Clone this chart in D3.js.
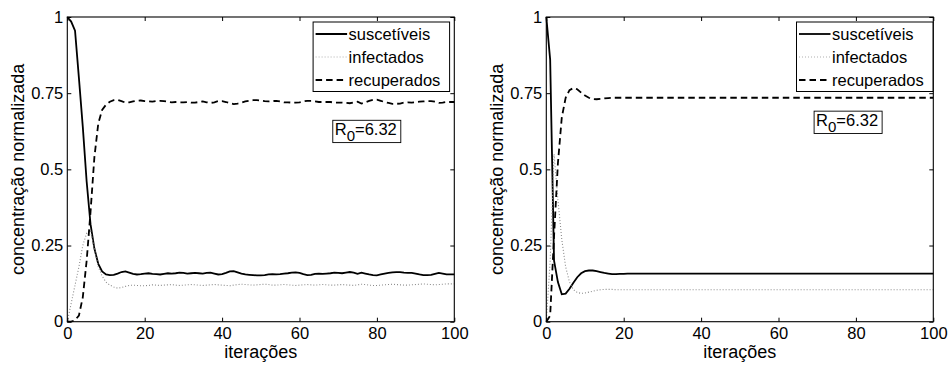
<!DOCTYPE html>
<html>
<head>
<meta charset="utf-8">
<script src="https://cdn.jsdelivr.net/npm/d3@7"></script>
<style>
body { margin: 0; background: #fff; }
svg { display: block; }
svg text { font-family: "Liberation Sans", Arial, Helvetica, sans-serif; }
</style>
</head>
<body>
<script>
var xTicks = [0, 20, 40, 60, 80, 100];
var yTicks = [0, 0.25, 0.5, 0.75, 1];
var seriesNames = ["suscetíveis", "infectados", "recuperados"];
var r0Value = "6.32";

// left panel: one value per iteration 0..100
var leftSusc = [
    1.000, 0.985, 0.955, 0.800, 0.640, 0.460, 0.320, 0.240, 0.190, 0.165, 0.155,
    0.153, 0.154, 0.158, 0.163, 0.165, 0.161, 0.157, 0.155, 0.156, 0.158,
    0.159, 0.157, 0.156, 0.155, 0.157, 0.159, 0.158, 0.159, 0.161, 0.160,
    0.158, 0.159, 0.160, 0.159, 0.158, 0.160, 0.161, 0.158, 0.155, 0.156,
    0.160, 0.165, 0.166, 0.162, 0.158, 0.155, 0.154, 0.153, 0.152, 0.152,
    0.153, 0.155, 0.156, 0.155, 0.156, 0.158, 0.159, 0.161, 0.162, 0.160,
    0.156, 0.153, 0.154, 0.157, 0.158, 0.157, 0.158, 0.159, 0.161, 0.160,
    0.159, 0.161, 0.163, 0.161, 0.157, 0.161, 0.158, 0.155, 0.153, 0.152,
    0.155, 0.158, 0.160, 0.162, 0.163, 0.163, 0.161, 0.160, 0.160, 0.158,
    0.155, 0.153, 0.153, 0.154, 0.157, 0.160, 0.158, 0.155, 0.155, 0.155
];
var leftInf = [
    0.000, 0.060, 0.120, 0.180, 0.250, 0.290, 0.300, 0.240, 0.180, 0.150, 0.130,
    0.120, 0.114, 0.110, 0.112, 0.116, 0.119, 0.120, 0.119, 0.118, 0.118,
    0.119, 0.121, 0.120, 0.119, 0.120, 0.121, 0.122, 0.120, 0.119, 0.120,
    0.121, 0.122, 0.121, 0.120, 0.119, 0.120, 0.121, 0.122, 0.121, 0.120,
    0.119, 0.118, 0.120, 0.122, 0.123, 0.122, 0.121, 0.120, 0.121, 0.122,
    0.123, 0.122, 0.120, 0.120, 0.121, 0.122, 0.121, 0.120, 0.119, 0.120,
    0.121, 0.122, 0.121, 0.120, 0.121, 0.122, 0.121, 0.120, 0.120, 0.121,
    0.122, 0.121, 0.120, 0.119, 0.121, 0.123, 0.122, 0.120, 0.119, 0.119,
    0.120, 0.121, 0.122, 0.123, 0.122, 0.121, 0.120, 0.120, 0.121, 0.122,
    0.123, 0.124, 0.123, 0.122, 0.121, 0.122, 0.123, 0.124, 0.124, 0.124
];
var leftRec = [
    0.000, 0.000, 0.005, 0.020, 0.080, 0.200, 0.360, 0.540, 0.650, 0.695, 0.712,
    0.722, 0.727, 0.728, 0.724, 0.719, 0.720, 0.723, 0.725, 0.726, 0.724,
    0.723, 0.722, 0.724, 0.725, 0.724, 0.722, 0.720, 0.721, 0.720, 0.720,
    0.721, 0.719, 0.719, 0.721, 0.723, 0.720, 0.718, 0.720, 0.724, 0.724,
    0.721, 0.717, 0.714, 0.716, 0.719, 0.723, 0.725, 0.727, 0.727, 0.726,
    0.724, 0.723, 0.724, 0.725, 0.723, 0.720, 0.720, 0.719, 0.719, 0.720,
    0.723, 0.725, 0.725, 0.723, 0.721, 0.721, 0.721, 0.721, 0.719, 0.719,
    0.719, 0.718, 0.717, 0.720, 0.722, 0.716, 0.720, 0.725, 0.728, 0.729,
    0.725, 0.721, 0.718, 0.715, 0.715, 0.716, 0.719, 0.720, 0.719, 0.720,
    0.722, 0.723, 0.724, 0.724, 0.722, 0.718, 0.719, 0.721, 0.721, 0.721
];
var leftIter = leftSusc.map(function(d, i) { return i; });

// right panel: settles by iteration 25, flat after that
var rightIter = [0, 1, 2, 3, 4, 5, 6, 7, 8, 9, 10, 11, 12, 13, 14, 15, 16, 17, 18, 19, 20, 21, 22, 23, 24, 25, 100];
var rightSusc = [1.000, 0.860, 0.200, 0.130, 0.090, 0.092, 0.108, 0.128, 0.146, 0.159, 0.166, 0.168, 0.168,
                 0.166, 0.163, 0.160, 0.158, 0.156, 0.156, 0.157, 0.157, 0.158, 0.158, 0.158, 0.158, 0.158, 0.158];
var rightInf = [0.000, 0.200, 0.550, 0.400, 0.270, 0.180, 0.130, 0.105, 0.096, 0.093, 0.094, 0.097, 0.100,
                0.103, 0.105, 0.106, 0.106, 0.106, 0.105, 0.105, 0.105, 0.105, 0.105, 0.105, 0.105, 0.105, 0.105];
var rightRec = [0.000, 0.020, 0.280, 0.520, 0.670, 0.735, 0.760, 0.767, 0.763, 0.752, 0.742, 0.735, 0.731,
                0.730, 0.731, 0.733, 0.734, 0.735, 0.735, 0.735, 0.735, 0.735, 0.735, 0.735, 0.735, 0.735, 0.735];

var lineStyles = [
    { stroke: "#000", width: 1.8, dash: null },
    { stroke: "#8a8a8a", width: 1.1, dash: "1,2" },
    { stroke: "#000", width: 1.8, dash: "6.5,4" }
];

var FONT = "Liberation Sans, Arial, Helvetica, sans-serif";
var W = 387, H = 304.7, TOP = 17;
var svg = d3.select("body").append("svg")
    .attr("width", 950).attr("height", 365)
    .attr("font-family", FONT);

function drawPanel(left, iter, series, legendInset, r0At) {
    var x = d3.scaleLinear().domain([0, 100]).range([0, W]);
    var y = d3.scaleLinear().domain([0, 1]).range([H, 0]);
    var g = svg.append("g").attr("transform", "translate(" + left + "," + TOP + ")");

    var line = d3.line()
        .x(function(d, i) { return x(iter[i]); })
        .y(function(d) { return y(d); });

    series.forEach(function(s, k) {
        var st = lineStyles[k];
        g.append("path")
            .datum(s)
            .attr("d", line)
            .attr("fill", "none")
            .attr("stroke", st.stroke)
            .attr("stroke-width", st.width)
            .attr("stroke-dasharray", st.dash);
    });

    var bottom = g.append("g").attr("transform", "translate(0," + H + ")")
        .call(d3.axisBottom(x).tickValues(xTicks).tickSizeInner(-4).tickSizeOuter(0).tickPadding(6));
    var leftAx = g.append("g")
        .call(d3.axisLeft(y).tickValues(yTicks).tickFormat(d3.format("")).tickSizeInner(-4).tickSizeOuter(0).tickPadding(4));
    g.append("g").call(d3.axisTop(x).tickValues(xTicks).tickFormat("").tickSizeInner(-4).tickSizeOuter(0));
    g.append("g").attr("transform", "translate(" + W + ",0)")
        .call(d3.axisRight(y).tickValues(yTicks).tickFormat("").tickSizeInner(-4).tickSizeOuter(0));

    g.selectAll(".domain").remove();
    g.selectAll(".tick line").attr("stroke", "#000");
    [bottom, leftAx].forEach(function(a) {
        a.attr("font-size", 16.5).attr("font-family", FONT);
        a.selectAll("text").attr("fill", "#000");
    });

    g.append("rect")
        .attr("width", W).attr("height", H)
        .attr("fill", "none").attr("stroke", "#000").attr("stroke-width", 1.1);

    g.append("text")
        .attr("x", W / 2).attr("y", H + 36)
        .attr("text-anchor", "middle").attr("font-size", 18)
        .text("iterações");
    g.append("text")
        .attr("transform", "translate(-43," + (H / 2) + ") rotate(-90)")
        .attr("text-anchor", "middle").attr("font-size", 18)
        .text("concentração normalizada");

    // legend
    var lw = 136.5, lh = 69.5;
    var leg = g.append("g").attr("transform", "translate(" + (W - legendInset - lw) + ",5)");
    leg.append("rect").attr("width", lw).attr("height", lh)
        .attr("fill", "#fff").attr("stroke", "#000").attr("stroke-width", 1);
    seriesNames.forEach(function(name, k) {
        var st = lineStyles[k];
        var ly = 12 + k * 23;
        leg.append("line")
            .attr("x1", 2.5).attr("x2", 34).attr("y1", ly).attr("y2", ly)
            .attr("stroke", k == 1 ? "#b0b0b0" : st.stroke)
            .attr("stroke-width", st.width)
            .attr("stroke-dasharray", st.dash);
        leg.append("text")
            .attr("x", 35.5).attr("y", ly + 6)
            .attr("font-size", 16.5)
            .text(name);
    });

    // R0 annotation box
    var bx = x(r0At[0]), by = y(r0At[1]);
    var box = g.append("g").attr("transform", "translate(" + bx + "," + by + ")");
    var rect = box.append("rect").attr("fill", "#fff").attr("stroke", "#000").attr("stroke-width", 0.9);
    var t = box.append("text").attr("x", 2).attr("y", 14.5).attr("font-size", 16.5);
    t.append("tspan").text("R");
    t.append("tspan").attr("dy", 6).attr("font-size", 15).text("0");
    t.append("tspan").attr("dy", -6).text("=" + r0Value);
    var bb = t.node().getBBox();
    rect.attr("width", bb.width + 6).attr("height", 22.3);
}

drawPanel(67.3, leftIter, [leftSusc, leftInf, leftRec], 4.7, [68.6, 0.661]);
drawPanel(546.3, rightIter, [rightSusc, rightInf, rightRec], 0.3, [69.2, 0.691]);
</script>
</body>
</html>
